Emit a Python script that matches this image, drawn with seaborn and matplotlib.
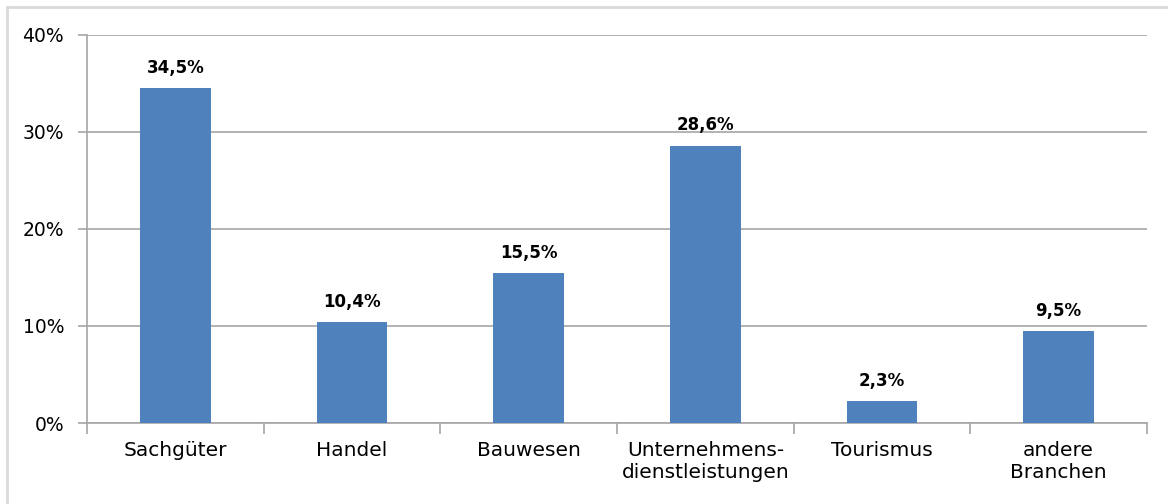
import matplotlib
matplotlib.use("Agg")
import matplotlib.pyplot as plt
import matplotlib.patches as mpatches
from matplotlib.ticker import FixedLocator, PercentFormatter
import seaborn as sns
import pandas as pd

categories = ["Sachgüter", "Handel", "Bauwesen", "Unternehmens-\ndienstleistungen",
              "Tourismus", "andere\nBranchen"]
shares = [34.5, 10.4, 15.5, 28.6, 2.3, 9.5]
y_ticks = [0, 10, 20, 30, 40]

df = pd.DataFrame({"Branche": categories, "Anteil": shares})

sns.set_style("white")
plt.rcParams["font.family"] = ["DejaVu Sans"]

fig = plt.figure(figsize=(11.68, 5.04), dpi=100)
ax = fig.add_axes([0.0745, 0.1607, 0.9075, 0.77])

grid_col = "#a6a6a6"
bar_col = "#4f81bd"

sns.barplot(data=df, x="Branche", y="Anteil", color=bar_col, width=0.4,
            saturation=1, linewidth=0, edgecolor="none", ax=ax, zorder=3)

ax.set_xlim(-0.5, len(categories) - 0.5)
ax.set_ylim(0, 40)
ax.set_xlabel("")
ax.set_ylabel("")

ax.set_yticks(y_ticks)
ax.yaxis.set_major_formatter(PercentFormatter(decimals=0))
ax.yaxis.grid(True, color=grid_col, linewidth=1.2, zorder=0)
ax.tick_params(axis="y", which="major", left=True, length=6.5, width=1.2,
               color=grid_col, labelsize=13.5, pad=10, labelcolor="#000000")

ax.tick_params(axis="x", which="major", length=0, labelsize=14.5, pad=13,
               labelcolor="#000000")
ax.xaxis.set_minor_locator(FixedLocator([i - 0.5 for i in range(len(categories) + 1)]))
ax.tick_params(axis="x", which="minor", bottom=True, length=8, width=1.2,
               color=grid_col, direction="out")

for side in ["top", "right"]:
    ax.spines[side].set_visible(False)
for side in ["left", "bottom"]:
    ax.spines[side].set_color(grid_col)
    ax.spines[side].set_linewidth(1.2)

# value labels above the bars, German decimal comma
for i, v in enumerate(shares):
    label = f"{v:.1f}".replace(".", ",") + "%"
    ax.annotate(label, (i, v), xytext=(0, 8), textcoords="offset points",
                ha="center", va="bottom", fontsize=12, fontweight="bold",
                color="#000000")

# light frame around the chart area
frame = mpatches.Rectangle((7 / 1168, -0.1), 1.2, 1 - 7 / 504 + 0.1,
                           transform=fig.transFigure, fill=False,
                           edgecolor="#d9d9d9", linewidth=2, clip_on=False)
fig.patches.append(frame)

fig.savefig("out.png", dpi=100)
